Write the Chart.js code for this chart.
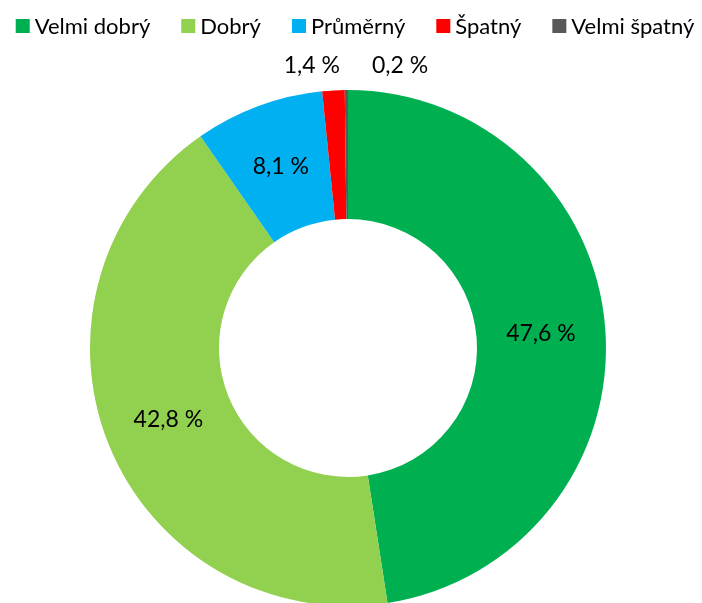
<!DOCTYPE html>
<html>
<head>
  <meta charset="utf-8">
  <script src="https://cdn.jsdelivr.net/npm/chart.js"></script>
  <style>
    body { margin: 0; background: #fff; overflow: hidden; }
    #wrap { position: relative; width: 702px; height: 603px; overflow: hidden; }
    #box { position: absolute; left: 0; top: 0; width: 702px; height: 620px; }
  </style>
</head>
<body>
  <div id="wrap"><div id="box"><canvas id="ratingChart"></canvas></div></div>

  <script>
    const categories = ['Velmi dobrý', 'Dobrý', 'Průměrný', 'Špatný', 'Velmi špatný'];
    const shares = [47.6, 42.8, 8.1, 1.4, 0.2];
    const colors = ['#00B050', '#92D050', '#00B0F0', '#FF0000', '#595959'];

    const fmt = v => v.toFixed(1).replace('.', ',') + ' %';

    // one-row legend like the office chart: small square, tight gap to the text
    const topLegend = {
      id: 'topLegend',
      afterDraw(chart) {
        const ctx = chart.ctx;
        const labels = chart.data.labels;
        const bg = chart.data.datasets[0].backgroundColor;
        const box = 14, gap = 5, spacing = 31, midY = 26;
        ctx.save();
        ctx.font = '22px Lato';
        ctx.textBaseline = 'middle';
        ctx.textAlign = 'left';
        const widths = labels.map(t => ctx.measureText(t).width);
        const total = widths.reduce((s, w) => s + box + gap + w, 0) + spacing * (labels.length - 1);
        let x = 355 - total / 2;
        labels.forEach((t, i) => {
          ctx.fillStyle = bg[i];
          ctx.fillRect(x, midY - box / 2, box, box);
          ctx.fillStyle = '#000';
          ctx.fillText(t, x + box + gap, midY + 1);
          x += box + gap + widths[i] + spacing;
        });
        ctx.restore();
      }
    };

    // percentage labels, the two thin slices get theirs above the ring
    const sliceLabels = {
      id: 'sliceLabels',
      afterDatasetsDraw(chart) {
        const ctx = chart.ctx;
        const meta = chart.getDatasetMeta(0);
        ctx.save();
        ctx.font = '23px Lato';
        ctx.fillStyle = '#000';
        ctx.textBaseline = 'middle';
        meta.data.forEach((arc, i) => {
          const p = arc.getProps(['x', 'y', 'startAngle', 'endAngle', 'innerRadius', 'outerRadius'], true);
          const text = fmt(shares[i]);
          if (shares[i] < 3) {
            const y = p.y - p.outerRadius - 24;
            if (i === 3) {
              ctx.textAlign = 'right';
              ctx.fillText(text, p.x - 8, y);
            } else {
              ctx.textAlign = 'left';
              ctx.fillText(text, p.x + 24, y);
            }
            return;
          }
          const a = (p.startAngle + p.endAngle) / 2;
          const r = (p.innerRadius + p.outerRadius) / 2;
          ctx.textAlign = 'center';
          ctx.fillText(text, p.x + Math.cos(a) * r, p.y + Math.sin(a) * r);
        });
        ctx.restore();
      }
    };

    const ctx = document.getElementById('ratingChart').getContext('2d');
    const ratingChart = new Chart(ctx, {
      type: 'doughnut',
      data: {
        labels: categories,
        datasets: [{
          data: shares,
          backgroundColor: colors,
          borderWidth: 0,
        }],
      },
      options: {
        responsive: true,
        maintainAspectRatio: false,
        animation: false,
        cutout: '50%',
        layout: { padding: { top: 90, right: 6, bottom: 14 } },
        plugins: {
          legend: { display: false },
          tooltip: { enabled: false },
        },
      },
      plugins: [topLegend, sliceLabels],
    });
  </script>
</body>
</html>
